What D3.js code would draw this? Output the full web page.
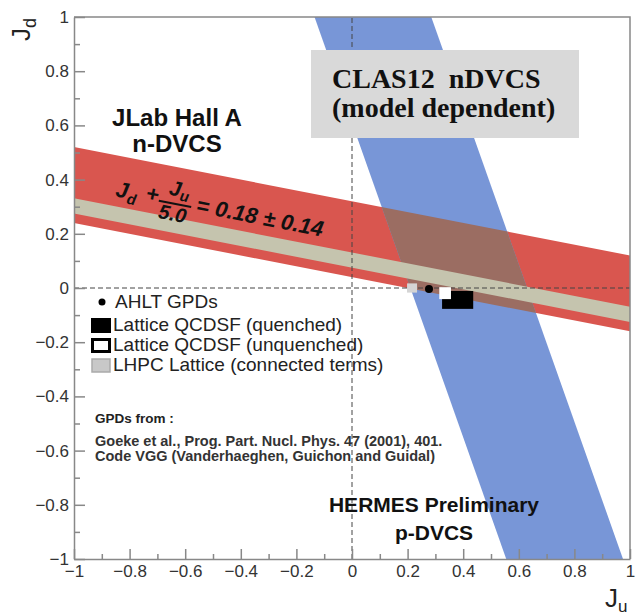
<!DOCTYPE html>
<html>
<head>
<meta charset="utf-8">
<script src="https://cdn.jsdelivr.net/npm/d3@7"></script>
<style>
  body { margin: 0; background: #fff; }
  text { font-family: "Liberation Sans", Arial, sans-serif; }
</style>
</head>
<body>
<div id="chart"></div>
<script>
var W = 636, H = 616;

// axis ticks
var majorTicks = [-1, -0.8, -0.6, -0.4, -0.2, 0, 0.2, 0.4, 0.6, 0.8, 1];
var minorTicks = [-0.9, -0.7, -0.5, -0.3, -0.1, 0.1, 0.3, 0.5, 0.7, 0.9];

// bands:  Jd + Ju/div = center +- err   (jlab, lhpc)
//         Ju + Jd/div = center +- err   (hermes)
var jlabBand = {center: 0.18, err: 0.14, div: 5.0};
var lhpcBand = {center: 0.103, err: 0.028, div: 5.0};
var hermesBand = {center: 0.42, err: 0.21, div: 2.9};

// model / lattice points (eu, ed = half sizes of the boxes)
var ahltPts = [{ju: 0.277, jd: -0.004}];
var quenchedPts = [{ju: 0.38, jd: -0.044, eu: 0.056, ed: 0.033}];
var unquenchedPts = [{ju: 0.335, jd: -0.019, eu: 0.021, ed: 0.022}];
var lhpcPts = [{ju: 0.216, jd: 0.0, eu: 0.018, ed: 0.017}];

var legendNames = ["AHLT GPDs", "Lattice QCDSF (quenched)", "Lattice QCDSF (unquenched)", "LHPC Lattice (connected terms)"];
var refLines = ["Goeke et al., Prog. Part. Nucl. Phys. 47 (2001), 401.", "Code VGG (Vanderhaeghen, Guichon and Guidal)"];

var red = "#d9564f", blue = "#7896d7", brown = "#9b6d62", beige = "#c5c4ae";
var frameCol = "#888";

var x = d3.scaleLinear().domain([-1, 1]).range([74, 630]);
var y = d3.scaleLinear().domain([-1, 1]).range([559, 17]);

var svg = d3.select("#chart").append("svg")
    .attr("width", W)
    .attr("height", H)
    .style("background", "#fff")

var line = d3.line();

function dBand(b) {
  var top = [-1, 1].map(u => [x(u), y(b.center - u / b.div + b.err)]);
  var bot = [1, -1].map(u => [x(u), y(b.center - u / b.div - b.err)]);
  return top.concat(bot);
}
function uBand(b) {
  var left = [1, -1].map(d => [x(b.center - d / b.div - b.err), y(d)]);
  var right = [-1, 1].map(d => [x(b.center - d / b.div + b.err), y(d)]);
  return left.concat(right);
}

svg.append("clipPath").attr("id", "jlabClip")
  .append("path").attr("d", line(dBand(jlabBand)) + "Z")

svg.append("path").attr("d", line(dBand(jlabBand)) + "Z").attr("fill", red)
svg.append("path").attr("d", line(uBand(hermesBand)) + "Z").attr("fill", blue)
svg.append("path").attr("d", line(uBand(hermesBand)) + "Z").attr("fill", brown)
    .attr("clip-path", "url(#jlabClip)")
svg.append("path").attr("d", line(dBand(lhpcBand)) + "Z").attr("fill", beige)

// dashed zero lines
svg.append("line")
    .attr("x1", x(-1)).attr("x2", x(1)).attr("y1", y(0)).attr("y2", y(0))
    .attr("stroke", "#444").attr("stroke-width", 1).attr("stroke-dasharray", "5,3")
svg.append("line")
    .attr("x1", x(0)).attr("x2", x(0)).attr("y1", y(-1)).attr("y2", y(1))
    .attr("stroke", "#444").attr("stroke-width", 1).attr("stroke-dasharray", "5,3")

// points
function boxes(data, fill) {
  svg.append("g").selectAll("rect")
    .data(data)
    .enter().append("rect")
      .attr("x", d => x(d.ju - d.eu))
      .attr("y", d => y(d.jd + d.ed))
      .attr("width", d => x(d.ju + d.eu) - x(d.ju - d.eu))
      .attr("height", d => y(d.jd - d.ed) - y(d.jd + d.ed))
      .attr("fill", fill)
}
boxes(lhpcPts, "#d4d4d4");
boxes(quenchedPts, "#000");
boxes(unquenchedPts, "#fff");
svg.append("g").selectAll("circle")
  .data(ahltPts)
  .enter().append("circle")
    .attr("cx", d => x(d.ju))
    .attr("cy", d => y(d.jd))
    .attr("r", 4)
    .attr("fill", "#000")

// axes
var fmt = d3.format(".1~f");
function styleAxis(g) {
  g.selectAll(".domain").attr("stroke", frameCol).attr("stroke-width", 1.5)
  g.selectAll(".tick line").attr("stroke", frameCol).attr("stroke-width", 1.5)
  g.selectAll("text").attr("fill", "#333").attr("font-size", 17)
}

var gxm = svg.append("g").attr("transform", "translate(0," + y(-1) + ")")
  .call(d3.axisBottom(x).tickValues(minorTicks).tickSizeInner(-5).tickSizeOuter(0).tickFormat(""))
gxm.select(".domain").remove()
styleAxis(gxm)
var gx = svg.append("g").attr("transform", "translate(0," + y(-1) + ")")
  .call(d3.axisBottom(x).tickValues(majorTicks).tickSizeInner(-10).tickSizeOuter(0).tickPadding(6).tickFormat(fmt))
styleAxis(gx)

var gym = svg.append("g").attr("transform", "translate(" + x(-1) + ",0)")
  .call(d3.axisLeft(y).tickValues(minorTicks).tickSizeInner(-6).tickSizeOuter(0).tickFormat(""))
gym.select(".domain").remove()
styleAxis(gym)
var gy = svg.append("g").attr("transform", "translate(" + x(-1) + ",0)")
  .call(d3.axisLeft(y).tickValues(majorTicks).tickSizeInner(-11).tickSizeOuter(0).tickPadding(5).tickFormat(fmt))
styleAxis(gy)

// top / right frame
svg.append("path")
    .attr("d", line([[x(-1), y(1)], [x(1), y(1)], [x(1), y(-1)]]))
    .attr("fill", "none").attr("stroke", frameCol).attr("stroke-width", 1.5)

// axis titles
var jd = svg.append("text")
    .attr("transform", "translate(30,41) rotate(-90)")
    .attr("font-size", 26).attr("fill", "#222")
jd.append("tspan").text("J")
jd.append("tspan").text("d").attr("font-size", 18).attr("dy", 6)

var ju = svg.append("text")
    .attr("x", 605).attr("y", 607)
    .attr("font-size", 26).attr("fill", "#222")
ju.append("tspan").text("J")
ju.append("tspan").text("u").attr("font-size", 17).attr("dy", 5)

// CLAS12 box
svg.append("rect")
    .attr("x", 311).attr("y", 50).attr("width", 268).attr("height", 88)
    .attr("fill", "#d9d9d9")
svg.selectAll(".clas")
  .data(["CLAS12\u00a0\u00a0nDVCS", "(model dependent)"])
  .enter().append("text")
    .attr("class", "clas")
    .attr("x", 332)
    .attr("y", (d, i) => 88 + i * 29)
    .style("font-family", '"Liberation Serif", "Times New Roman", serif')
    .attr("font-weight", "bold")
    .attr("font-size", 28)
    .attr("fill", "#111")
    .text(d => d)

// experiment labels
svg.selectAll(".jlab")
  .data(["JLab Hall A", "n-DVCS"])
  .enter().append("text")
    .attr("x", 177)
    .attr("y", (d, i) => 126 + i * 26)
    .attr("text-anchor", "middle")
    .attr("font-weight", "bold")
    .attr("font-size", 24)
    .attr("fill", "#111")
    .text(d => d)

svg.selectAll(".hermes")
  .data(["HERMES Preliminary", "p-DVCS"])
  .enter().append("text")
    .attr("x", 434)
    .attr("y", (d, i) => 512 + i * 28)
    .attr("text-anchor", "middle")
    .attr("font-weight", "bold")
    .attr("font-size", 21)
    .attr("fill", "#111")
    .text(d => d)

// equation along the JLab band
var angle = Math.atan2(y(-1 / jlabBand.div) - y(0), x(1) - x(0)) * 180 / Math.PI;
var u0 = -0.853;
var eq = svg.append("g")
    .attr("transform", "translate(" + x(u0) + "," + y(jlabBand.center - u0 / jlabBand.div - 0.012) + ") rotate(" + angle + ")")
    .attr("font-weight", "bold").attr("font-style", "italic").attr("fill", "#111")
var t1 = eq.append("text").attr("x", 0).attr("y", 0).attr("font-size", 22)
t1.append("tspan").text("J")
t1.append("tspan").text("d").attr("font-size", 15).attr("dy", 5)
eq.append("text").attr("x", 30).attr("y", -2).attr("font-size", 22).text("+")
var t2 = eq.append("text").attr("x", 52).attr("y", -12).attr("font-size", 21)
t2.append("tspan").text("J")
t2.append("tspan").text("u").attr("font-size", 15).attr("dy", 4)
eq.append("line").attr("x1", 44).attr("x2", 77).attr("y1", -4).attr("y2", -4)
    .attr("stroke", "#111").attr("stroke-width", 2)
eq.append("text").attr("x", 46).attr("y", 13).attr("font-size", 20).text("5.0")
eq.append("text").attr("x", 82).attr("y", 0).attr("font-size", 22)
    .text("= " + jlabBand.center.toFixed(2) + " \u00b1 " + jlabBand.err.toFixed(2))

// legend
var legend = svg.append("g").attr("class", "legend")
legend.selectAll("text")
  .data(legendNames)
  .enter().append("text")
    .attr("x", (d, i) => i == 0 ? 115 : 113)
    .attr("y", (d, i) => [308, 331, 351, 371][i])
    .attr("font-size", 19)
    .attr("fill", "#222")
    .text(d => d)
legend.append("circle").attr("cx", 102).attr("cy", 302).attr("r", 3.5).attr("fill", "#000")
legend.append("rect").attr("x", 91).attr("y", 318).attr("width", 20).attr("height", 15).attr("fill", "#000")
legend.append("rect").attr("x", 92.5).attr("y", 339.5).attr("width", 17).attr("height", 12)
    .attr("fill", "#fff").attr("stroke", "#000").attr("stroke-width", 3)
legend.append("rect").attr("x", 92).attr("y", 359).attr("width", 18).attr("height", 13)
    .attr("fill", "#c8c8c8").attr("stroke", "#aaa").attr("stroke-width", 1.5)

// reference note
svg.append("text")
    .attr("x", 95).attr("y", 423)
    .attr("font-size", 13.5).attr("font-weight", "bold").attr("fill", "#222")
    .text("GPDs from :")
svg.selectAll(".ref")
  .data(refLines)
  .enter().append("text")
    .attr("class", "ref")
    .attr("x", 95)
    .attr("y", (d, i) => 446 + i * 15)
    .attr("font-size", 14.5)
    .attr("font-weight", "bold")
    .attr("fill", "#333")
    .text(d => d)
</script>
</body>
</html>
